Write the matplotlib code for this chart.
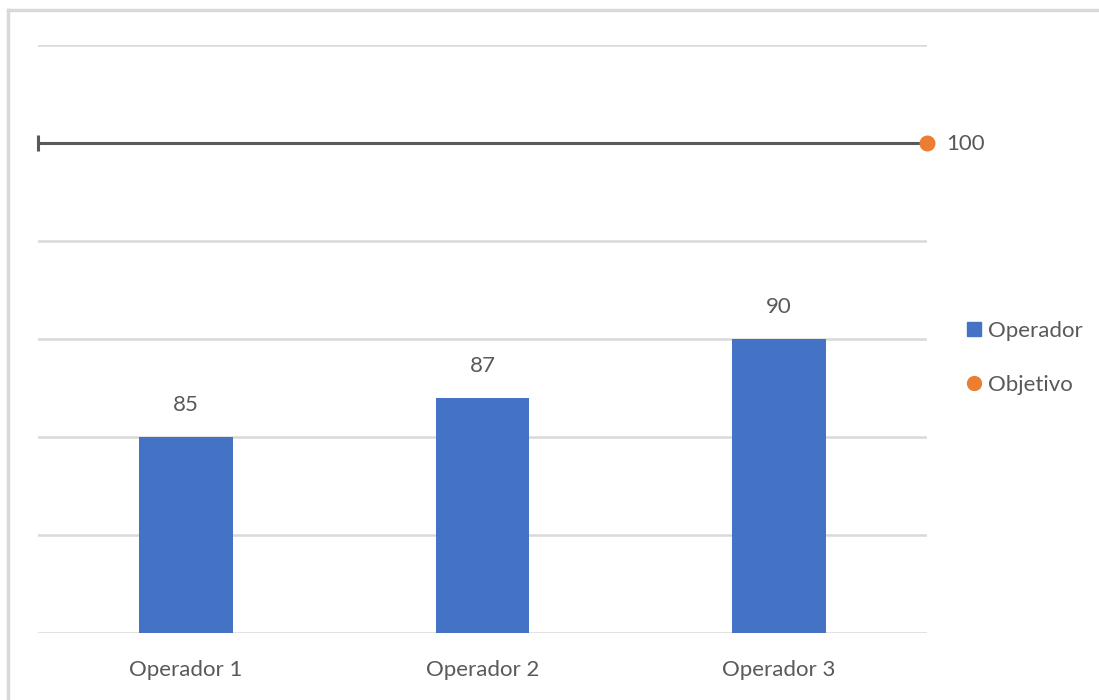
import matplotlib
matplotlib.use("Agg")
import matplotlib.pyplot as plt
from matplotlib.lines import Line2D

plt.rcParams['font.family'] = ['Lato', 'DejaVu Sans']

categories = ["Operador 1", "Operador 2", "Operador 3"]
operador = [85, 87, 90]
objetivo = 100
series_names = ["Operador", "Objetivo"]

BLUE = "#4472C4"
ORANGE = "#ED7D31"
TEXT = "#595959"
GRID = "#D9D9D9"
FS = 16

fig = plt.figure(figsize=(10.99, 7.0), dpi=100)
fig.patch.set_facecolor("white")

# outer chart frame (top and left edges visible)
fig.add_artist(Line2D([8 / 1099, 8 / 1099], [0, 1 - 9.5 / 700], transform=fig.transFigure,
                      color=GRID, lw=2.5))
fig.add_artist(Line2D([8 / 1099, 1], [1 - 9.5 / 700, 1 - 9.5 / 700], transform=fig.transFigure,
                      color=GRID, lw=2.5))

ax = fig.add_axes([38 / 1099, 67 / 700, (927 - 38) / 1099, (633 - 45) / 700])
x = list(range(len(categories)))
ax.set_xlim(-0.5, len(categories) - 0.5)
ax.set_ylim(75, 105)
ax.set_yticks(range(75, 106, 5))
ax.yaxis.grid(True, color=GRID, lw=1.8)
ax.set_axisbelow(True)
for s in ax.spines.values():
    s.set_visible(False)
ax.tick_params(axis="y", left=False, labelleft=False)
ax.tick_params(axis="x", bottom=False, labelsize=FS, labelcolor=TEXT, pad=16)
ax.set_xticks(x)
ax.set_xticklabels(categories)

ax.bar(x, [v - 75 for v in operador], bottom=75, width=0.315, color=BLUE, zorder=2)
for xi, v in zip(x, operador):
    ax.annotate(str(v), (xi, v), xytext=(0, 16), textcoords="offset points",
                ha="center", va="bottom", fontsize=FS, color=TEXT)

# target: point at the right edge with a leftward error bar spanning the plot
x_end = len(categories) - 0.5
x_start = x_end - len(categories)
ax.plot([x_start, x_end], [objetivo, objetivo], color="#595959", lw=2.2, zorder=3,
        solid_capstyle="butt", clip_on=False)
ax.plot([x_start], [objetivo], marker="|", color="#595959", markersize=12,
        markeredgewidth=2.2, zorder=3, clip_on=False)
ax.plot([x_end], [objetivo], "o", color=ORANGE, markersize=10.5, zorder=4, clip_on=False)
ax.annotate(str(objetivo), (x_end, objetivo), xytext=(14, -1), textcoords="offset points",
            ha="left", va="center", fontsize=FS, color=TEXT, annotation_clip=False)

handles = [Line2D([0], [0], marker="s", color="none", markerfacecolor=BLUE, markeredgecolor=BLUE,
                  markersize=9.5),
           Line2D([0], [0], marker="o", color="none", markerfacecolor=ORANGE, markeredgecolor=ORANGE,
                  markersize=10)]
leg = fig.legend(handles, series_names, loc="center left",
                 bbox_to_anchor=(945 / 1099, 1 - 358 / 700), frameon=False,
                 handlelength=0.8, handletextpad=0.25, labelspacing=1.55, fontsize=FS)
for t in leg.get_texts():
    t.set_color(TEXT)

fig.savefig("out.png", dpi=100, facecolor="white")
